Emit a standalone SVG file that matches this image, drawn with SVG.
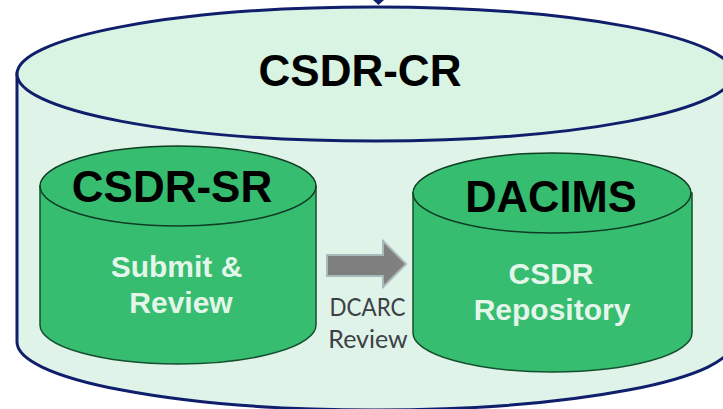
<svg xmlns="http://www.w3.org/2000/svg" width="723" height="409" viewBox="0 0 723 409">
<style>
.outer{fill:#e0f3e9;stroke:#0f1f6b;stroke-width:3}
.top{fill:#d9f4e3;stroke:#0f1f6b;stroke-width:3}
.body{fill:#36bd70;stroke:#14502f;stroke-width:1.5}
.lid{fill:#36bd70;stroke:#0f3d24;stroke-width:1.5}
text{font-family:"Liberation Sans",Arial,sans-serif;text-anchor:middle}
.h{font-weight:700;fill:#000}
.w{font-weight:700;fill:#e4f6ea;font-size:30px}
.g{fill:#3c4146;font-size:25px;font-family:Lato,"Liberation Sans",sans-serif}
</style>
<g id="csdr-cr">
<path class="outer" d="M17 74V342A358 68 0 0 0 733 342V74Z"/>
<ellipse class="top" cx="375" cy="74" rx="358" ry="67"/>
<path fill="#0f1f6b" d="M373 0H384L378.500 5Z"/>
<text class="h" x="360" y="86" font-size="44">CSDR-CR</text>
</g>
<g id="csdr-sr">
<path class="body" d="M40 186V325A138 39 0 0 0 316 325V186Z"/>
<ellipse class="lid" cx="178" cy="186" rx="138" ry="40"/>
<text class="h" x="172" y="202" font-size="44">CSDR-SR</text>
<text class="w" x="176.500" y="277">Submit &amp;</text>
<text class="w" x="181" y="313">Review</text>
</g>
<g id="dacims">
<path class="body" d="M413 193V333A139.500 39 0 0 0 692 333V193Z"/>
<ellipse class="lid" cx="552" cy="193" rx="139" ry="40"/>
<text class="h" x="551" y="212" font-size="43.500">DACIMS</text>
<text class="w" x="551" y="284" font-size="31">CSDR</text>
<text class="w" x="552" y="320" font-size="30.500">Repository</text>
</g>
<g id="connectors">
<path fill="#7f7f7f" stroke="#a9b8b8" stroke-width="2" d="M327 255H383V241L406 264L383 287V276H327Z"/>
</g>
<g id="dcarc-review">
<text class="g" x="367.500" y="316" textLength="76" lengthAdjust="spacingAndGlyphs">DCARC</text>
<text class="g" x="368" y="348">Review</text>
</g>
</svg>
